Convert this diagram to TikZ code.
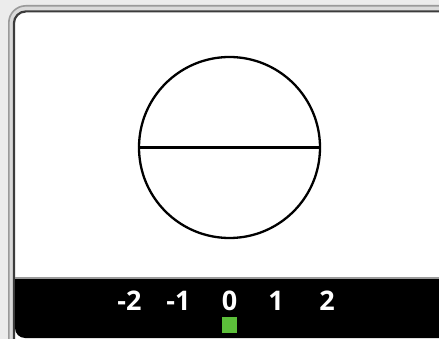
\documentclass[tikz,border=0pt]{standalone}
\usepackage{fontspec}
\setmainfont{Open Sans}
\definecolor{bgc}{HTML}{ECECEC}
\definecolor{rimc}{HTML}{9A9A9A}
\definecolor{rimfill}{HTML}{DADADA}
\definecolor{darkrim}{HTML}{3C3C3C}
\definecolor{greenc}{HTML}{5CBF3A}
\tikzset{
  numlabel/.style={text=white, font=\fontsize{27}{27}\selectfont\bfseries, anchor=base, inner sep=0pt},
  outline/.style={line width=2.3pt, draw=black}
}
\begin{document}
\begin{tikzpicture}[x=1pt,y=-1pt]
\useasboundingbox (0,0) rectangle (439,339);
\begin{scope}
\clip (0,0) rectangle (439,339);
\fill[bgc] (0,0) rectangle (439,339);
\draw[rimc, fill=rimfill, line width=1.6pt, rounded corners=17pt] (8.8,5.8) rectangle (470,370);
\draw[darkrim, fill=white, line width=2.2pt, rounded corners=12pt] (13.9,11.4) rectangle (470,370);
\fill[black] (15,279) [rounded corners=10pt] -- (15,338) [sharp corners] -- (470,338) -- (470,279) -- cycle;
\draw[rimc, line width=1.6pt] (15,277.8) -- (439,277.8);
\end{scope}
\node[outline, circle, minimum size=181pt, inner sep=0pt] (c) at (229.5,147.5) {};
\draw[outline] (c.west) -- (c.east);
\node[numlabel] (m2) at (129.5,310.5) {-2};
\node[numlabel] (m1) at (178.5,310.5) {-1};
\node[numlabel] (z) at (229.5,310.5) {0};
\node[numlabel] (p1) at (276,310.5) {1};
\node[numlabel] (p2) at (327,310.5) {2};
\node[fill=greenc, minimum width=15.5pt, minimum height=16pt, inner sep=0pt] (g) at (229.5,325) {};
\end{tikzpicture}
\end{document}
